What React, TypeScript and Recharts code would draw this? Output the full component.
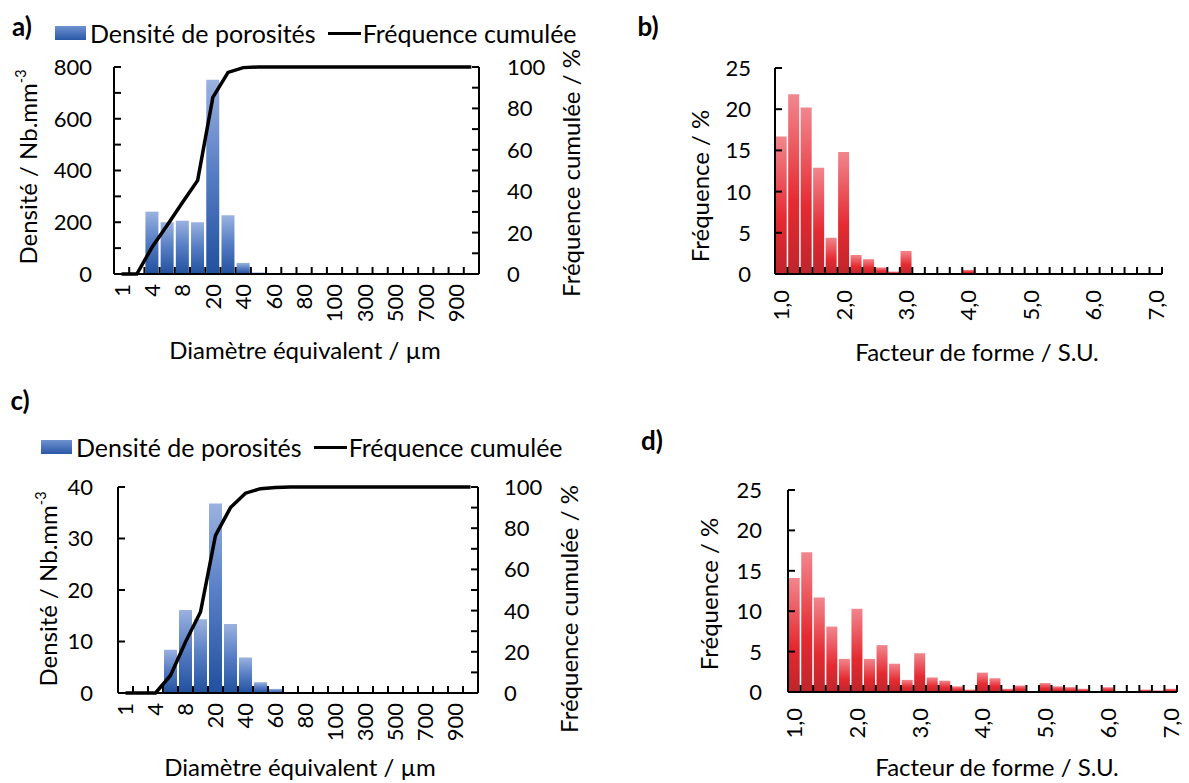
import React from 'react';
import { ComposedChart, BarChart, Bar, Line, XAxis, YAxis } from 'recharts';

const FONT = 'Lato, "Open Sans", sans-serif';

// equivalent diameter classes (µm)
const diameterClasses = ['1', '2', '4', '6', '8', '10', '20', '30', '40', '50', '60', '70', '80', '90', '100', '200', '300', '400', '500', '600', '700', '800', '900', '1000'];
const densityA = [0, 0, 241, 200, 206, 200, 751, 227, 43, 6, 0, 0, 0, 0, 0, 0, 0, 0, 0, 0, 0, 0, 0, 0];
const cumulA = [0, 0, 12.9, 23.5, 34.5, 45.2, 85.3, 97.4, 99.7, 100, 100, 100, 100, 100, 100, 100, 100, 100, 100, 100, 100, 100, 100, 100];
const densityC = [0, 0, 0, 8.4, 16.1, 14.3, 36.8, 13.4, 6.9, 2.1, 0.8, 0, 0, 0, 0, 0, 0, 0, 0, 0, 0, 0, 0, 0];
const cumulC = [0, 0, 0, 8.5, 24.8, 39.3, 76.5, 90.0, 97.0, 99.2, 99.7, 100, 100, 100, 100, 100, 100, 100, 100, 100, 100, 100, 100, 100];

// shape factor classes
const shapeClasses = ['1,0', '1,2', '1,4', '1,6', '1,8', '2,0', '2,2', '2,4', '2,6', '2,8', '3,0', '3,2', '3,4', '3,6', '3,8', '4,0', '4,2', '4,4', '4,6', '4,8', '5,0', '5,2', '5,4', '5,6', '5,8', '6,0', '6,2', '6,4', '6,6', '6,8', '7,0'];
const freqB = [16.7, 21.8, 20.2, 12.9, 4.4, 14.8, 2.3, 1.8, 0.8, 0.3, 2.8, 0, 0, 0, 0, 0.5, 0, 0, 0, 0, 0, 0, 0, 0, 0, 0, 0, 0, 0, 0, 0];
const freqD = [14.1, 17.3, 11.7, 8.1, 4.1, 10.3, 4.1, 5.8, 3.5, 1.5, 4.8, 1.8, 1.4, 0.7, 0.3, 2.4, 1.7, 0.4, 0.8, 0, 1.1, 0.7, 0.6, 0.4, 0, 0.6, 0, 0, 0.3, 0.2, 0.4];

const densityTicksA = [0, 100, 200, 300, 400, 500, 600, 700, 800];
const densityTicksC = [0, 10, 20, 30, 40];
const cumulTicks = [0, 10, 20, 30, 40, 50, 60, 70, 80, 90, 100];
const freqTicks = [0, 5, 10, 15, 20, 25];

const dataA = diameterClasses.map((c, i) => ({ cat: c, density: densityA[i], cum: cumulA[i] }));
const dataC = diameterClasses.map((c, i) => ({ cat: c, density: densityC[i], cum: cumulC[i] }));
const dataB = shapeClasses.map((c, i) => ({ cat: c, freq: freqB[i] }));
const dataD = shapeClasses.map((c, i) => ({ cat: c, freq: freqD[i] }));

const TICK_FS = 22;
const TITLE_FS = 24;

// category tick: tick mark on the right edge of each class, rotated label every n classes
const CatTick = (props: any) => {
  const { x, y, payload, index, every, gap } = props;
  const half = payload?.offset ?? (props.width && props.visibleTicksCount ? props.width / props.visibleTicksCount / 2 : 0);
  const show = index % every === 0;
  const ty = y + gap;
  return (
    <g>
      <line x1={x + half} x2={x + half} y1={y} y2={y - 7} stroke="#000" strokeWidth={2} />
      {show && (
        <text x={x} y={ty} transform={`rotate(-90, ${x}, ${ty})`} textAnchor="end" dy="0.36em"
          fontSize={TICK_FS} fontFamily={FONT} fill="#000">
          {payload.value}
        </text>
      )}
    </g>
  );
};

const ValTick = (props: any) => {
  const { x, y, payload, side, gap, labelEvery } = props;
  const dir = side === 'left' ? 1 : -1;
  const show = payload.value % labelEvery === 0;
  return (
    <g>
      <line x1={x} x2={x + dir * 7} y1={y} y2={y} stroke="#000" strokeWidth={2} />
      {show && (
        <text x={side === 'left' ? x - gap : x + gap} y={y} dy="0.36em" textAnchor={side === 'left' ? 'end' : 'start'}
          fontSize={TICK_FS} fontFamily={FONT} fill="#000">
          {payload.value}
        </text>
      )}
    </g>
  );
};

const axisLine = { stroke: '#000', strokeWidth: 2 };

const BlueGrad = ({ id }: { id: string }) => (
  <defs>
    <linearGradient id={id} x1="0" y1="0" x2="0" y2="1">
      <stop offset="0%" stopColor="#9ab2df" />
      <stop offset="45%" stopColor="#5a80c6" />
      <stop offset="100%" stopColor="#21509e" />
    </linearGradient>
  </defs>
);

const RedGrad = ({ id }: { id: string }) => (
  <defs>
    <linearGradient id={id} x1="0" y1="0" x2="0" y2="1">
      <stop offset="0%" stopColor="#f2868d" />
      <stop offset="60%" stopColor="#e52a31" />
      <stop offset="100%" stopColor="#bf252c" />
    </linearGradient>
  </defs>
);

const Text = ({ x, y, size = TITLE_FS, rotate, bold, children }: any) => (
  <div style={{
    position: 'absolute', left: x, top: y, whiteSpace: 'nowrap', fontSize: size, lineHeight: 1,
    fontWeight: bold ? 700 : 400, transform: `translate(-50%, -50%)${rotate ? ' rotate(-90deg)' : ''}`,
  }}>
    {children}
  </div>
);

const LegendRow = ({ x, y }: { x: number; y: number }) => (
  <div style={{ position: 'absolute', left: x, top: y - 13, height: 26, display: 'flex', alignItems: 'center', fontSize: 25, whiteSpace: 'nowrap' }}>
    <span style={{ width: 31, height: 14, background: 'linear-gradient(#6f92d0, #2a58a6)', marginRight: 4 }} />
    <span>Densité de porosités</span>
    <span style={{ width: 33, height: 3, background: '#000', marginLeft: 12, marginRight: 2 }} />
    <span>Fréquence cumulée</span>
  </div>
);

const DensityChart = ({ data, ticksL, maxL, labelEveryL, gradId, margin, width, height, gapL, gapR }: any) => (
  <ComposedChart width={width} height={height} data={data} margin={margin} barCategoryGap={1}>
    <BlueGrad id={gradId} />
    <XAxis dataKey="cat" interval={0} tickSize={0} tickMargin={0} height={10} axisLine={axisLine} tickLine={false}
      tick={(p: any) => <CatTick {...p} every={2} gap={10} />} />
    <YAxis yAxisId="left" width={10} domain={[0, maxL]} ticks={ticksL} interval={0} tickSize={0} tickMargin={0}
      axisLine={axisLine} tickLine={false} tick={(p: any) => <ValTick {...p} side="left" gap={gapL} labelEvery={labelEveryL} />} />
    <YAxis yAxisId="right" orientation="right" width={10} domain={[0, 100]} ticks={cumulTicks} interval={0} tickSize={0} tickMargin={0}
      axisLine={axisLine} tickLine={false} tick={(p: any) => <ValTick {...p} side="right" gap={gapR} labelEvery={20} />} />
    <Bar yAxisId="left" dataKey="density" fill={`url(#${gradId})`} isAnimationActive={false} />
    <Line yAxisId="right" dataKey="cum" type="linear" stroke="#000" strokeWidth={3.5} dot={false} isAnimationActive={false} />
  </ComposedChart>
);

const ShapeChart = ({ data, gradId, margin, width, height, gapL }: any) => (
  <BarChart width={width} height={height} data={data} margin={margin} barCategoryGap={0.7}>
    <RedGrad id={gradId} />
    <XAxis dataKey="cat" interval={0} tickSize={0} tickMargin={0} height={10} axisLine={axisLine} tickLine={false}
      tick={(p: any) => <CatTick {...p} every={5} gap={16} />} />
    <YAxis width={10} domain={[0, 25]} ticks={freqTicks} interval={0} tickSize={0} tickMargin={0}
      axisLine={axisLine} tickLine={false} tick={(p: any) => <ValTick {...p} side="left" gap={gapL} labelEvery={5} />} />
    <Bar dataKey="freq" fill={`url(#${gradId})`} isAnimationActive={false} />
  </BarChart>
);

const Mm3 = () => (<>Densité / Nb.mm<sup style={{ fontSize: '0.6em', verticalAlign: '0.7em' }}>-3</sup></>);

export default function App() {
  return (
    <div style={{ position: 'absolute', left: 0, top: 0, width: 1189, height: 783, background: '#fff', fontFamily: FONT, color: '#000', overflow: 'hidden' }}>
      {/* panel a */}
      <div style={{ position: 'absolute', left: 0, top: 0 }}>
        <DensityChart data={dataA} ticksL={densityTicksA} maxL={800} labelEveryL={200} gradId="blueA"
          width={600} height={380} margin={{ top: 67, right: 111, left: 104, bottom: 96 }} gapL={22} gapR={28} />
      </div>
      {/* panel b */}
      <div style={{ position: 'absolute', left: 600, top: 0 }}>
        <ShapeChart data={dataB} gradId="redB" width={589} height={380}
          margin={{ top: 68, right: 27, left: 165, bottom: 96 }} gapL={24} />
      </div>
      {/* panel c */}
      <div style={{ position: 'absolute', left: 0, top: 380 }}>
        <DensityChart data={dataC} ticksL={densityTicksC} maxL={40} labelEveryL={10} gradId="blueC"
          width={600} height={403} margin={{ top: 107, right: 112, left: 108, bottom: 80 }} gapL={25} gapR={26} />
      </div>
      {/* panel d */}
      <div style={{ position: 'absolute', left: 600, top: 380 }}>
        <ShapeChart data={dataD} gradId="redD" width={589} height={403}
          margin={{ top: 110, right: 12, left: 178, bottom: 81 }} gapL={26} />
      </div>

      <Text x={22} y={26} size={26} bold>a)</Text>
      <Text x={648} y={26} size={26} bold>b)</Text>
      <Text x={20} y={400} size={26} bold>c)</Text>
      <Text x={652} y={440} size={26} bold>d)</Text>

      <LegendRow x={55} y={33} />
      <LegendRow x={41} y={447} />

      <Text x={27} y={167} rotate><Mm3 /></Text>
      <Text x={571} y={173} rotate>Fréquence cumulée / %</Text>
      <Text x={305} y={350}>Diamètre équivalent / µm</Text>

      <Text x={700} y={186} rotate>Fréquence / %</Text>
      <Text x={977} y={352}>Facteur de forme / S.U.</Text>

      <Text x={47} y={589} rotate><Mm3 /></Text>
      <Text x={569} y={609} rotate>Fréquence cumulée / %</Text>
      <Text x={300} y={767}>Diamètre équivalent / µm</Text>

      <Text x={709} y={594} rotate>Fréquence / %</Text>
      <Text x={997} y={767}>Facteur de forme / S.U.</Text>
    </div>
  );
}
